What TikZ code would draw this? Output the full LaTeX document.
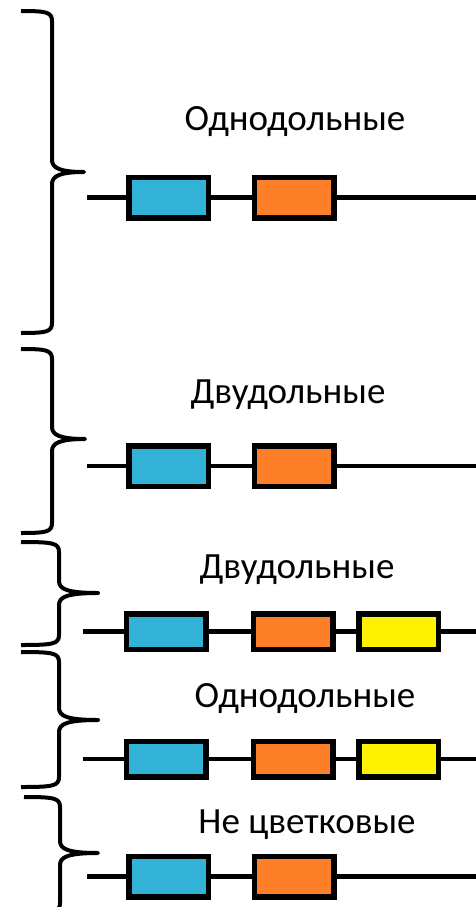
\documentclass[tikz,border=0pt]{standalone}
\usepackage{fontspec}
\setmainfont{Carlito}
\definecolor{geneblue}{HTML}{31B2D6}
\definecolor{geneorange}{HTML}{FD7F27}
\definecolor{geneyellow}{HTML}{FFF200}
\begin{document}
\begin{tikzpicture}[x=1pt,y=-1pt,
  gene/.style={draw=black, line width=5.5pt, inner sep=0pt, minimum width=79.5pt},
  tall/.style={minimum height=40.5pt},
  short/.style={minimum height=35.5pt},
  strand/.style={line width=4.5pt},
  bracket/.style={line width=4pt, line join=round},
  label/.style={anchor=base, font=\fontsize{37}{42}\selectfont}]
\useasboundingbox (0,0) rectangle (476,907);

% curly brackets: left end x, stem x, tip x, top y, tip y, bottom y
\newcommand{\curlybr}[6]{%
  \draw[bracket] (#1,#4) .. controls ({#2-6},#4) and (#2,{#4+1}) .. (#2,{#4+10})
    -- (#2,{#5-12}) .. controls (#2,{#5-4}) and ({#2+8},#5) .. (#3,#5)
    .. controls ({#2+8},#5) and (#2,{#5+4}) .. (#2,{#5+12})
    -- (#2,{#6-10}) .. controls (#2,{#6-1}) and ({#2-6},#6) .. (#1,#6);}
\curlybr{21}{52}{84}{11}{172}{333}
\curlybr{21}{52}{85}{349}{439}{533}
\curlybr{21}{59}{98}{542}{593}{645}
\curlybr{21}{59}{98}{652}{720}{787}
\curlybr{24}{60}{98}{797}{853}{913}

% captions
\node[label] (t1) at (295,130) {Однодольные};
\node[label] (t2) at (288,403) {Двудольные};
\node[label] (t3) at (297,578) {Двудольные};
\node[label] (t4) at (305,707) {Однодольные};
\node[label] (t5) at (307,833) {Не цветковые};

% row 1
\coordinate (s1) at (87,197.5);
\coordinate (e1) at (476,197.5);
\node[gene, tall, fill=geneblue] (b1) at (168.5,197.5) {};
\node[gene, tall, fill=geneorange] (o1) at (294,197.5) {};
\draw[strand] (s1) -- (b1.west) (b1.east) -- (o1.west) (o1.east) -- (e1);

% row 2
\coordinate (s2) at (87,466);
\coordinate (e2) at (476,466);
\node[gene, tall, fill=geneblue] (b2) at (168.5,466) {};
\node[gene, tall, fill=geneorange] (o2) at (294,466) {};
\draw[strand] (s2) -- (b2.west) (b2.east) -- (o2.west) (o2.east) -- (e2);

% row 3
\coordinate (s3) at (83,631.5);
\coordinate (e3) at (476,631.5);
\node[gene, short, fill=geneblue] (b3) at (166,631.5) {};
\node[gene, short, fill=geneorange] (o3) at (293,631.5) {};
\node[gene, short, fill=geneyellow] (y3) at (398.5,631.5) {};
\draw[strand] (s3) -- (b3.west) (b3.east) -- (o3.west) (o3.east) -- (y3.west) (y3.east) -- (e3);

% row 4
\coordinate (s4) at (83,759);
\coordinate (e4) at (476,759);
\node[gene, short, fill=geneblue] (b4) at (166,759) {};
\node[gene, short, fill=geneorange] (o4) at (293,759) {};
\node[gene, short, fill=geneyellow] (y4) at (398.5,759) {};
\draw[strand] (s4) -- (b4.west) (b4.east) -- (o4.west) (o4.east) -- (y4.west) (y4.east) -- (e4);

% row 5
\coordinate (s5) at (87,876.5);
\coordinate (e5) at (476,876.5);
\node[gene, tall, fill=geneblue] (b5) at (168.5,876.5) {};
\node[gene, tall, fill=geneorange] (o5) at (294,876.5) {};
\draw[strand] (s5) -- (b5.west) (b5.east) -- (o5.west) (o5.east) -- (e5);
\end{tikzpicture}
\end{document}
